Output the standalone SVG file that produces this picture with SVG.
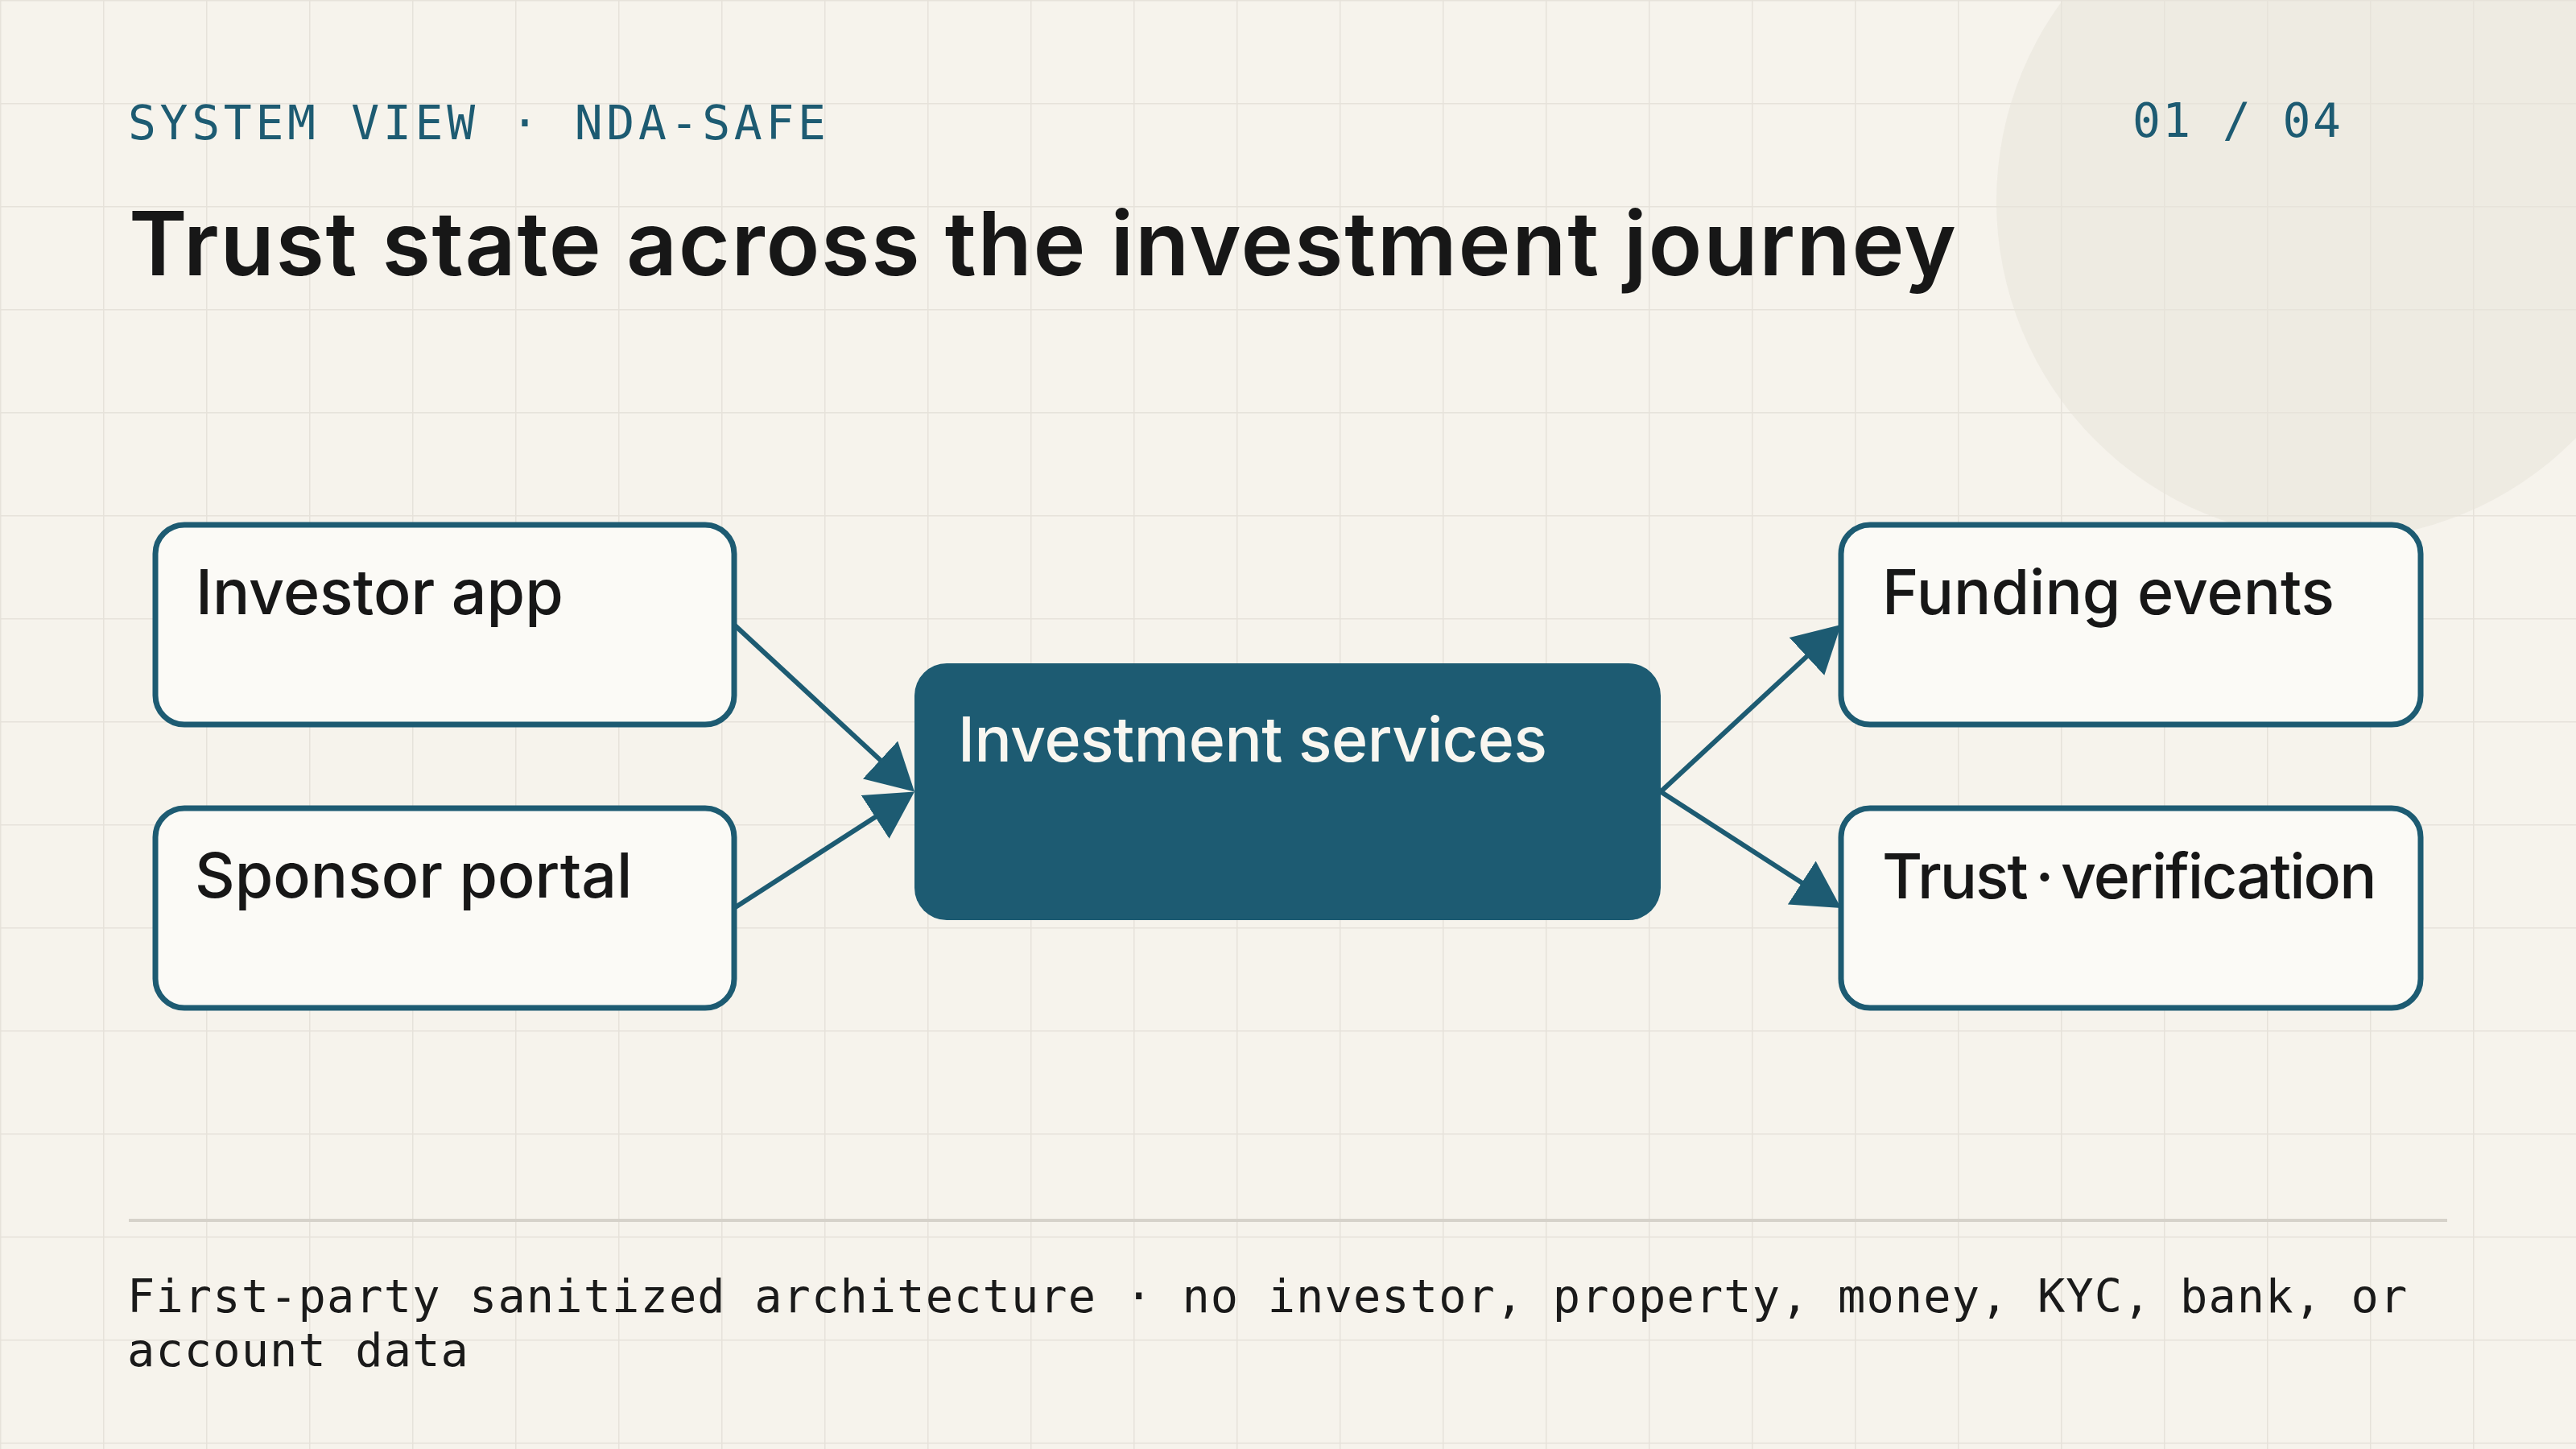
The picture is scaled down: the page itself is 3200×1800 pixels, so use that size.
<svg xmlns="http://www.w3.org/2000/svg" width="3200" height="1800" viewBox="0 0 3200 1800">
  <defs>
    <pattern id="grid" x="0" y="0" width="128" height="128" patternUnits="userSpaceOnUse">
      <path d="M0,0 H128 M0,0 V128" fill="none" stroke="#e6e2da" stroke-width="3"/>
    </pattern>
    <marker id="arrow" viewBox="0 0 58 64" markerUnits="userSpaceOnUse" markerWidth="58" markerHeight="64" refX="28" refY="32" orient="auto">
      <path d="M0,0 L58,32 L0,64 Z" fill="#1d5b72"/>
    </marker>
    <style>
      .mono { font-family: "DejaVu Sans Mono", "Liberation Mono", monospace; }
      .eyebrow { font-size: 58px; letter-spacing: 4.7px; fill: #1d5b72; }
      .eyebrow.page { letter-spacing: 2.4px; }
      .title { font-family: Inter, "Liberation Sans", sans-serif; font-size: 110px; font-weight: 600; fill: #171717; }
      .node rect.box { fill: #fbfaf6; stroke: #1d5b72; stroke-width: 7; }
      .node rect.core { fill: #1d5b72; }
      .label { font-family: Inter, "Liberation Sans", sans-serif; font-size: 77px; font-weight: 500; fill: #171717; }
      .label.inv { fill: #f8f6f0; letter-spacing: -0.5px; }
      .label.tight { word-spacing: -8px; letter-spacing: -2px; }
      .edge { stroke: #1d5b72; stroke-width: 6; fill: none; marker-end: url(#arrow); }
      .foot { font-size: 57px; letter-spacing: 1.1px; fill: #1a1a1a; }
    </style>
  </defs>

  <rect width="3200" height="1800" fill="#f6f3ec"/>
  <rect width="3200" height="1800" fill="url(#grid)"/>
  <circle cx="2900" cy="250" r="420" fill="#e8e4da" opacity="0.55"/>

  <text class="mono eyebrow" x="159" y="173">SYSTEM VIEW · NDA-SAFE</text>
  <text class="mono eyebrow page" x="2649" y="170">01 / 04</text>
  <text class="title" x="160" y="342" textLength="2270" lengthAdjust="spacing">Trust state across the investment journey</text>

  <g id="connectors">
    <line class="edge" x1="912" y1="776" x2="1114" y2="963.1"/>
    <line class="edge" x1="912" y1="1128" x2="1110.8" y2="999.8"/>
    <line class="edge" x1="2063" y1="983.5" x2="2265" y2="796.4"/>
    <line class="edge" x1="2063" y1="983.5" x2="2261.8" y2="1111.7"/>
  </g>

  <g id="investor-app" class="node">
    <rect class="box" x="193" y="652" width="719" height="248" rx="36"/>
    <text class="label" x="243" y="763">Investor app</text>
  </g>
  <g id="sponsor-portal" class="node">
    <rect class="box" x="193" y="1004" width="719" height="248" rx="36"/>
    <text class="label" x="242" y="1115">Sponsor portal</text>
  </g>
  <g id="investment-services" class="node">
    <rect class="core" x="1136" y="824" width="927" height="319" rx="40"/>
    <text class="label inv" x="1190" y="946">Investment services</text>
  </g>
  <g id="funding-events" class="node">
    <rect class="box" x="2287" y="652" width="720" height="248" rx="36"/>
    <text class="label" x="2338" y="763">Funding events</text>
  </g>
  <g id="trust-verification" class="node">
    <rect class="box" x="2287" y="1004" width="720" height="248" rx="36"/>
    <text class="label tight" x="2338" y="1116">Trust · verification</text>
  </g>

  <line x1="160" y1="1516" x2="3040" y2="1516" stroke="#d6d2ca" stroke-width="4"/>
  <text class="mono foot" x="158" y="1630">First-party sanitized architecture · no investor, property, money, KYC, bank, or</text>
  <text class="mono foot" x="158" y="1697">account data</text>
</svg>
